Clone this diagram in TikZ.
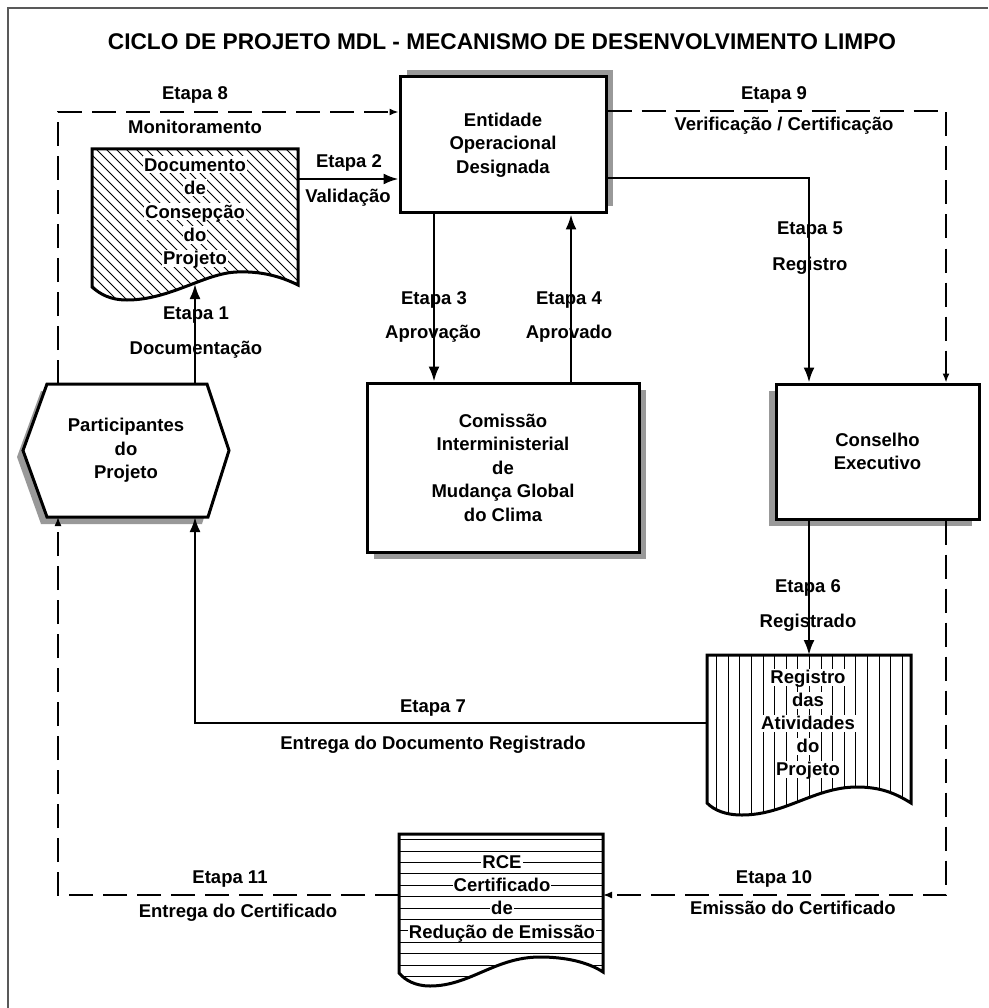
\documentclass[tikz,border=0pt]{standalone}
\usepackage{fontspec}
\setmainfont{Liberation Sans}
\usetikzlibrary{calc,arrows.meta}
\definecolor{shadowgray}{gray}{0.6}
\definecolor{framegray}{gray}{0.35}
\begin{document}
\begin{tikzpicture}[x=1pt,y=-1pt,
  txt/.style={font=\fontsize{18.5}{23.5}\selectfont\bfseries, align=center},
  lab/.style={font=\fontsize{18.5}{23.5}\selectfont\bfseries, inner sep=0pt, text height=13pt, text depth=0pt},
  doctext/.style={lab, fill=white, inner xsep=1pt, inner ysep=2pt},
  box/.style={draw, line width=3pt, fill=white, inner sep=0pt, txt},
  area/.style={inner sep=0pt, outer sep=0pt},
  sarr/.style={line width=2.3pt, -{Latex[length=15pt,width=11pt]}},
  darr/.style={line width=1.6pt, dash pattern=on 24pt off 10pt, -{Latex[length=9pt,width=7pt]}},
  hatch/.style={line width=0.9pt},
  outline/.style={line width=3pt, line join=miter}]

\fill[white] (0,0) rectangle (988,1008);
\useasboundingbox (0,0) rectangle (988,1008);
\draw[framegray, line width=1.6pt] (8,1008) -- (8,8) -- (988,8);

% title
\node[font=\fontsize{22.7}{26}\selectfont\bfseries, inner sep=0pt, text height=16pt, text depth=0pt] (title) at (502,42) {CICLO DE PROJETO MDL - MECANISMO DE DESENVOLVIMENTO LIMPO};

% ---- boxes with shadows
\fill[shadowgray] (407,70) rectangle (613,206);
\node[box, minimum width=206pt, minimum height=136pt] (eod) at (503,145) {Entidade\\Operacional\\Designada};

\fill[shadowgray] (374,390) rectangle (646,559);
\node[box, minimum width=272pt, minimum height=169pt] (com) at (503,467.5) {Comissão\\Interministerial\\de\\Mudança Global\\do Clima};

\fill[shadowgray] (769,391) rectangle (972,526);
\node[box, minimum width=203pt, minimum height=135pt] (cons) at (877.5,451.5) {Conselho\\Executivo};

% ---- hexagon
\fill[shadowgray] (41,391) -- (201,391) -- (223,457) -- (202,524) -- (41,524) -- (17,457) -- cycle;
\draw[outline, fill=white] (47,384) -- (207,384) -- (229,450.5) -- (208,517) -- (47,517) -- (23,450.5) -- cycle;
\node[area, txt, minimum width=206pt, minimum height=133pt] (part) at (126,450.5) {Participantes\\do\\Projeto};

% ---- document 1 (diagonal hatching)
\def\docA{(92,149) -- (298,149) -- (298,285) .. controls (280,276) and (260,271) .. (237,272) .. controls (205,273) and (170,300) .. (127,300) .. controls (110,300) and (100,294) .. (92,287) -- cycle}
\fill[white] \docA;
\begin{scope}
  \clip \docA;
  \foreach \k in {0,...,40} \draw[hatch] ({-64+\k*10},149) -- ++(170,170);
\end{scope}
\draw[outline] \docA;
\node[area, minimum width=206pt, minimum height=138pt] (doc1) at (195,218) {};
\node[doctext] (d1a) at (195,165) {Documento};
\node[doctext] (d1b) at (195,188) {de};
\node[doctext] (d1c) at (195,212) {Consepção};
\node[doctext] (d1d) at (195,235) {do};
\node[doctext] (d1e) at (195,258) {Projeto};

% ---- document 2 (vertical hatching)
\def\docB{(707,655) -- (911,655) -- (911,803) .. controls (895,793) and (880,787) .. (857,787) .. controls (815,787) and (785,815) .. (742,815) .. controls (725,815) and (714,810) .. (707,803) -- cycle}
\fill[white] \docB;
\begin{scope}
  \clip \docB;
  \foreach \k in {0,...,16} \draw[hatch] ({716.7+\k*11.6},650) -- ++(0,170);
\end{scope}
\draw[outline] \docB;
\node[area, minimum width=204pt, minimum height=148pt] (reg) at (809,729) {};
\node[doctext] (r1) at (808,677) {Registro};
\node[doctext] (r2) at (808,700) {das};
\node[doctext] (r3) at (808,723) {Atividades};
\node[doctext] (r4) at (808,746) {do};
\node[doctext] (r5) at (808,769) {Projeto};

% ---- document 3 (horizontal hatching)
\def\docC{(399,834) -- (603,834) -- (603,972) .. controls (588,962) and (565,957) .. (540,957) .. controls (495,957) and (470,986) .. (430,986) .. controls (415,986) and (405,980) .. (399,973) -- cycle}
\fill[white] \docC;
\begin{scope}
  \clip \docC;
  \foreach \k in {0,...,13} \draw[hatch] (395,{839.6+\k*11.4}) -- ++(215,0);
\end{scope}
\draw[outline] \docC;
\node[area, minimum width=204pt, minimum height=139pt] (rce) at (501,903.5) {};
\node[doctext] (c1t) at (502,862) {RCE};
\node[doctext] (c2t) at (502,885) {Certificado};
\node[doctext] (c3t) at (502,908) {de};
\node[doctext] (c4t) at (502,932) {Redução de Emissão};

% ---- connectors
\coordinate (c1) at (195,284);
\coordinate (e2) at (298,179);
\coordinate (c3) at (434,300);
\coordinate (c4) at (571,300);
\coordinate (c5) at (809,178);
\coordinate (c7) at (195,723);
\coordinate (c8) at (58,112);
\coordinate (c9) at (946,111);
\coordinate (c10) at (946,895);
\coordinate (c11) at (58,895);

\draw[sarr] (c1 |- part.north) -- (c1);
\draw[sarr] (e2) -- (e2 -| eod.west);
\draw[sarr] (c3 |- eod.south) -- (c3 |- com.north);
\draw[sarr] (c4 |- com.north) -- (c4 |- eod.south);
\draw[sarr] (c5 -| eod.east) -- (c5) -- (c5 |- cons.north);
\draw[sarr] (c5 |- cons.south) -- (c5 |- reg.north);
\draw[sarr] (c7 -| reg.west) -- (c7) -- (c7 |- part.south);

\draw[darr] (c8 |- part.north) -- (c8) -- (c8 -| eod.west);
\draw[darr] (c9 -| eod.east) -- (c9) -- (c9 |- cons.north);
\draw[darr] (c10 |- cons.south) -- (c10) -- (c10 -| rce.east);
\draw[darr] (c11 -| rce.west) -- (c11) -- (c11 |- part.south);

% ---- labels
\node[lab] (l8a) at (195,93) {Etapa 8};
\node[lab] (l8b) at (195,127) {Monitoramento};
\node[lab] (l2a) at (349,161) {Etapa 2};
\node[lab] (l2b) at (348,196) {Validação};
\node[lab] (l1a) at (196,313) {Etapa 1};
\node[lab] (l1b) at (196,348) {Documentação};
\node[lab] (l3a) at (434,298) {Etapa 3};
\node[lab] (l3b) at (433,332) {Aprovação};
\node[lab] (l4a) at (569,298) {Etapa 4};
\node[lab] (l4b) at (569,332) {Aprovado};
\node[lab] (l5a) at (810,228) {Etapa 5};
\node[lab] (l5b) at (810,264) {Registro};
\node[lab] (l9a) at (774,93) {Etapa 9};
\node[lab] (l9b) at (784,124) {Verificação / Certificação};
\node[lab] (l6a) at (808,586) {Etapa 6};
\node[lab] (l6b) at (808,621) {Registrado};
\node[lab] (l7a) at (433,706) {Etapa 7};
\node[lab] (l7b) at (433,743) {Entrega do Documento Registrado};
\node[lab] (l10a) at (774,877) {Etapa 10};
\node[lab] (l10b) at (793,908) {Emissão do Certificado};
\node[lab] (l11a) at (230,877) {Etapa 11};
\node[lab] (l11b) at (238,911) {Entrega do Certificado};
\end{tikzpicture}
\end{document}
